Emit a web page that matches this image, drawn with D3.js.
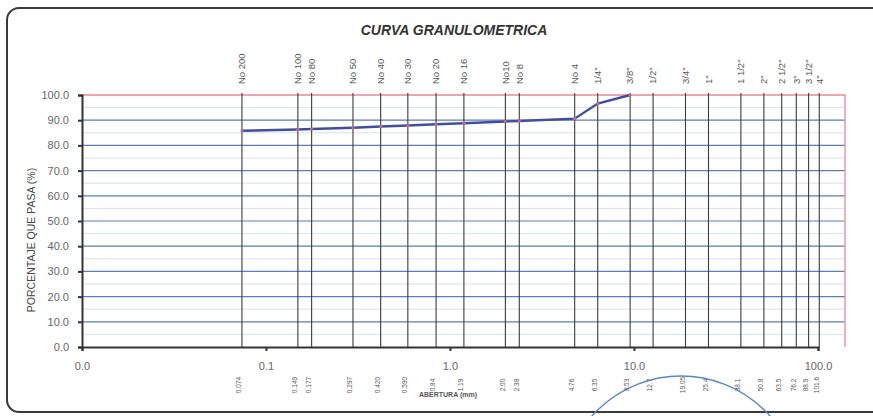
<!DOCTYPE html>
<html>
<head>
<meta charset="utf-8">
<script src="https://cdn.jsdelivr.net/npm/d3@7"></script>
<style>
  body { margin: 0; background: #fff; }
  svg { display: block; font-family: "Liberation Sans", Arial, sans-serif; }
</style>
</head>
<body>
<svg id="chart" width="873" height="416"></svg>
<script>
// sieve names (top) and openings in mm (bottom)
const sieveNames = ["No 200", "No 100", "No 80", "No 50", "No 40", "No 30", "No 20", "No 16", "No10", "No 8",
  "No 4", "1/4\"", "3/8\"", "1/2\"", "3/4\"", "1\"", "1 1/2\"", "2\"", "2 1/2\"", "3\"", "3 1/2\"", "4\""];
const openings = [0.074, 0.149, 0.177, 0.297, 0.420, 0.590, 0.84, 1.19, 2.00, 2.38,
  4.76, 6.35, 9.53, 12.7, 19.05, 25.4, 38.1, 50.8, 63.5, 76.2, 88.9, 101.6];
const openingLabels = ["0.074", "0.149", "0.177", "0.297", "0.420", "0.590", "0.84", "1.19", "2.00", "2.38",
  "4.76", "6.35", "9.53", "12.7", "19.05", "25.4", "38.1", "50.8", "63.5", "76.2", "88.9", "101.6"];
// % passing for the first sieves (up to 3/8")
const passing = [85.8, 86.3, 86.5, 87.0, 87.5, 87.9, 88.4, 88.8, 89.5, 89.7, 90.6, 96.6, 100];
const xTicks = [0.01, 0.1, 1, 10, 100];
const yTicks = [0, 10, 20, 30, 40, 50, 60, 70, 80, 90, 100];

const svg = d3.select("#chart");

// frame of the sheet
svg.append("rect")
  .attr("x", 7).attr("y", 8).attr("width", 900).attr("height", 404)
  .attr("rx", 12)
  .attr("fill", "none").attr("stroke", "#3a3a3a").attr("stroke-width", 2);

const mLeft = 82, mRight = 818, plotRight = 845, mTop = 95, mBottom = 347;

const x = d3.scaleLog().domain([0.01, 100]).range([mLeft, mRight]);
const y = d3.scaleLinear().domain([0, 100]).range([mBottom, mTop]);

// minor grid (every 5)
svg.append("g")
  .selectAll("line")
  .data(d3.range(5, 100, 10))
  .join("line")
    .attr("x1", mLeft).attr("x2", plotRight)
    .attr("y1", d => y(d)).attr("y2", d => y(d))
    .attr("stroke", "#d6e0f0").attr("stroke-width", 1);

// major grid
svg.append("g")
  .selectAll("line")
  .data(yTicks.filter(d => d > 0 && d < 100))
  .join("line")
    .attr("x1", mLeft).attr("x2", plotRight)
    .attr("y1", d => y(d)).attr("y2", d => y(d))
    .attr("stroke", "#5d7cb8").attr("stroke-width", 1.2);

// plot border top/right (pink)
svg.append("path")
  .attr("d", `M${mLeft},${y(100)}H${plotRight}V${mBottom}`)
  .attr("fill", "none").attr("stroke", "#e8889c").attr("stroke-width", 1.3);

// sieve lines
svg.append("g")
  .selectAll("line")
  .data(openings)
  .join("line")
    .attr("x1", d => x(d)).attr("x2", d => x(d))
    .attr("y1", mTop - 2).attr("y2", mBottom)
    .attr("stroke", "#3c3c3c").attr("stroke-width", 1.1);

// sieve names on top
svg.append("g")
  .selectAll("text")
  .data(sieveNames)
  .join("text")
    .attr("transform", (d, i) => `translate(${x(openings[i])},84) rotate(-90)`)
    .attr("dy", "0.35em")
    .attr("font-size", 9.5)
    .attr("fill", "#555")
    .text(d => d);

// openings under the axis
svg.append("g")
  .selectAll("text")
  .data(openingLabels)
  .join("text")
    .attr("transform", (d, i) => `translate(${x(openings[i]) - 3},385) rotate(-90)`)
    .attr("dy", "0.35em")
    .attr("text-anchor", "middle")
    .attr("font-size", 6.5)
    .attr("fill", "#555")
    .text(d => d);

// axes
const yAxis = svg.append("g")
  .attr("transform", `translate(${mLeft},0)`)
  .call(d3.axisLeft(y).tickValues(yTicks).tickFormat(d3.format(".1f")).tickSize(4).tickPadding(9));
const xAxis = svg.append("g")
  .attr("transform", `translate(0,${mBottom})`)
  .call(d3.axisBottom(x).tickValues(xTicks).tickFormat(d3.format(".1f")).tickSize(4).tickPadding(11));
[yAxis, xAxis].forEach(g => {
  g.select(".domain").attr("stroke", "#333").attr("stroke-width", 2);
  g.selectAll(".tick line").attr("stroke", "#333").attr("stroke-width", 2);
  g.selectAll(".tick text").attr("fill", "#666").attr("font-size", 11)
    .attr("font-family", "'Liberation Sans', Arial, sans-serif");
});

// grading curve
const pts = passing.map((p, i) => [openings[i], p]);
svg.append("path")
  .datum(pts)
  .attr("fill", "none")
  .attr("stroke", "#3f4f9e")
  .attr("stroke-width", 2.4)
  .attr("d", d3.line().x(d => x(d[0])).y(d => y(d[1])));
svg.append("g")
  .selectAll("circle")
  .data(pts)
  .join("circle")
    .attr("cx", d => x(d[0])).attr("cy", d => y(d[1]))
    .attr("r", 1.6)
    .attr("fill", "#c76a86");

// titles
svg.append("text")
  .attr("x", 454).attr("y", 35)
  .attr("text-anchor", "middle")
  .attr("font-family", "'Liberation Sans Narrow', 'Arial Narrow', 'Liberation Sans', sans-serif")
  .attr("font-size", 14)
  .attr("font-weight", "bold")
  .attr("font-style", "italic")
  .attr("fill", "#333")
  .text("CURVA GRANULOMETRICA");

svg.append("text")
  .attr("transform", "translate(31,240) rotate(-90)")
  .attr("dy", "0.35em")
  .attr("text-anchor", "middle")
  .attr("font-size", 10.5)
  .attr("fill", "#444")
  .text("PORCENTAJE QUE PASA (%)");

svg.append("text")
  .attr("x", 448).attr("y", 397)
  .attr("text-anchor", "middle")
  .attr("font-size", 7)
  .attr("font-weight", "bold")
  .attr("fill", "#555")
  .text("ABERTURA (mm)");

// stamp edge visible at the bottom of the scan
svg.append("circle")
  .attr("cx", 681).attr("cy", 495).attr("r", 119)
  .attr("fill", "none").attr("stroke", "#5a86cc").attr("stroke-width", 1.4);
</script>
</body>
</html>
